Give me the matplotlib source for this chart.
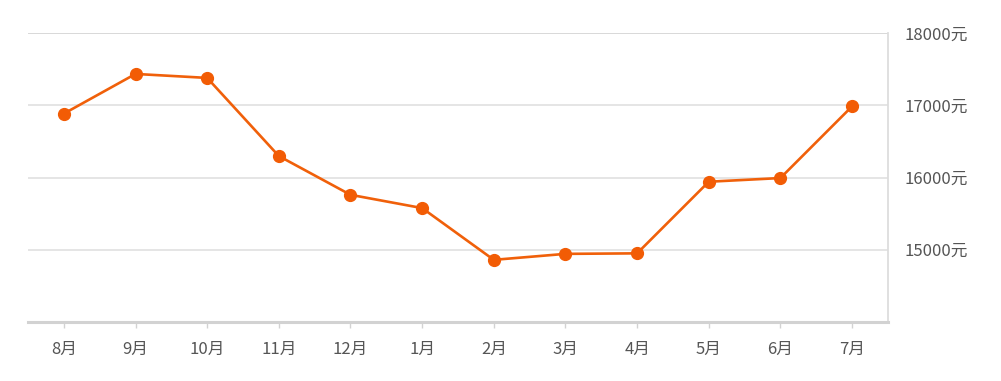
import matplotlib
matplotlib.use('Agg')
import matplotlib.pyplot as plt

plt.rcParams['font.family'] = ['Noto Sans CJK SC', 'DejaVu Sans']

months = ['8月', '9月', '10月', '11月', '12月', '1月', '2月', '3月', '4月', '5月', '6月', '7月']
prices = [16885, 17435, 17380, 16298, 15761, 15577, 14860, 14943, 14950, 15942, 15993, 16986]
yticks = [15000, 16000, 17000, 18000]
ylabels = ['15000元', '16000元', '17000元', '18000元']

fig = plt.figure(figsize=(10.01, 3.81), dpi=100)
ax = fig.add_axes([0.028, 0.155, 0.859, 0.758])

x = list(range(len(months)))
ax.plot(x, prices, color='#F0600A', linewidth=1.9, marker='o', markersize=8.5,
        markerfacecolor='#F25C05', markeredgecolor='#F25C05', zorder=3)

ax.set_xlim(-0.5, len(months) - 0.5)
ax.set_ylim(14000, 18000)
ax.set_xticks(x)
ax.set_xticklabels(months)
ax.set_yticks(yticks)
ax.set_yticklabels(ylabels)
ax.yaxis.tick_right()

ax.grid(axis='y', color='#e0e0e0', linewidth=1.2)
ax.axhline(18000, color='#d8d8d8', linewidth=1.3)
ax.set_axisbelow(True)

for s in ['left', 'top']:
    ax.spines[s].set_visible(False)
ax.spines['right'].set_color('#dddddd')
ax.spines['right'].set_linewidth(1.3)
ax.spines['bottom'].set_color('#d2d2d2')
ax.spines['bottom'].set_linewidth(2.2)

ax.tick_params(axis='x', colors='#d2d2d2', length=4, width=1, pad=10,
               labelcolor='#555555', labelsize=12)
ax.tick_params(axis='y', length=0, pad=12, labelcolor='#555555', labelsize=12)

fig.savefig('out.png', dpi=100)
